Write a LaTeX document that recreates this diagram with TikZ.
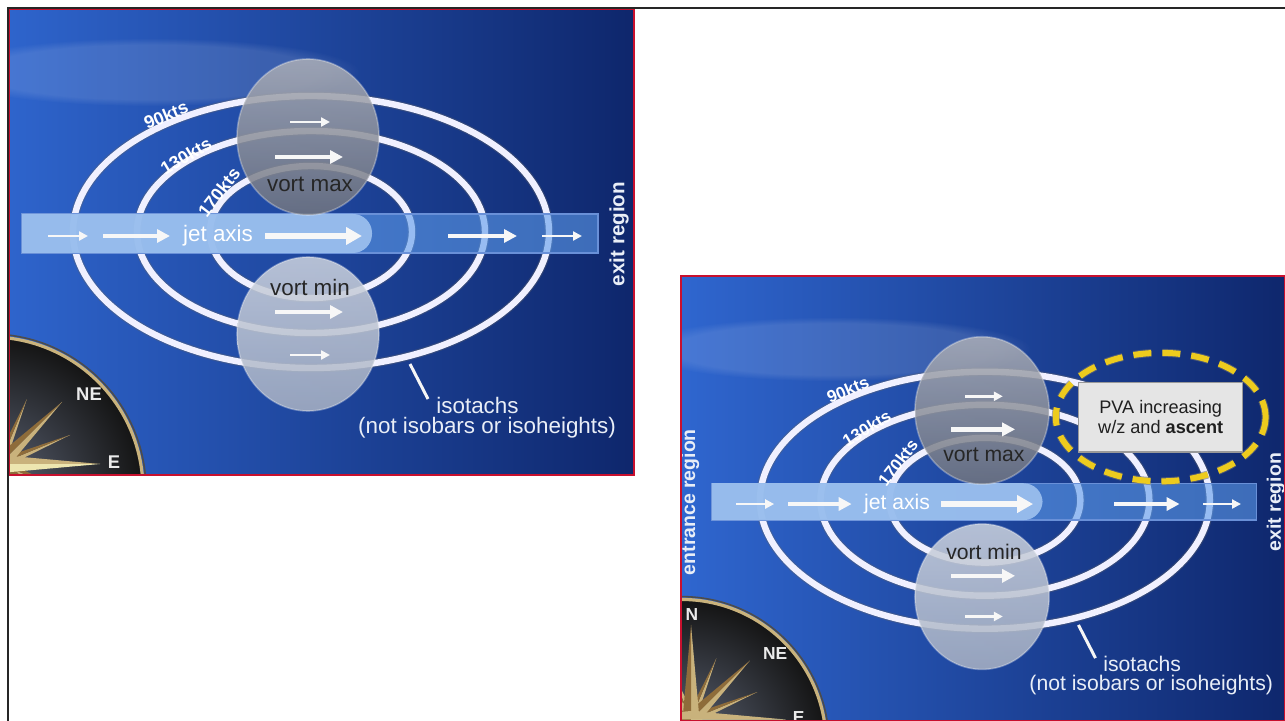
\documentclass[tikz,border=0pt]{standalone}
\usepackage{fontspec}
\setmainfont{Liberation Sans}
\usepackage{tikz}
\usetikzlibrary{arrows.meta,fadings}
\definecolor{jetskylight}{HTML}{3068D2}
\definecolor{jetskymid}  {HTML}{1D49B8}
\definecolor{jetskydeep} {HTML}{0D2468}
\definecolor{jetbarpale} {HTML}{9CC0EE}
\definecolor{jetbarblue} {HTML}{5C9AEA}
\definecolor{vortmaxtop} {HTML}{ABAEB7}
\definecolor{vortmaxbot} {HTML}{70747F}
\definecolor{vortmintop} {HTML}{CDD3DE}
\definecolor{vortminbot} {HTML}{A9B2C3}
\definecolor{compassface}{HTML}{5E6678}
\definecolor{compassgold}{HTML}{C9B27C}
\definecolor{compassdark}{HTML}{8E6C3A}
\definecolor{compasspale}{HTML}{EDE6B0}
\definecolor{pvayellow}  {HTML}{EDCB1E}
\definecolor{panelred}   {HTML}{C8102E}
\definecolor{labelwhite} {HTML}{E9EEF7}

\begin{document}
\begin{tikzpicture}[
  x=0.5pt, y=-0.5pt,
  isotach/.style={draw=white!94!blue, line width=3.2pt},
  isoshade/.style={draw=black!60, line width=4.4pt, opacity=0.35},
  flowthin/.style={draw=white!94!gray, line width=1.3pt,
                   -{Triangle[length=4.5pt,width=4.5pt]}},
  flowmid/.style={draw=white!94!gray, line width=2.2pt,
                  -{Triangle[length=6.5pt,width=6.5pt]}},
  flowbig/.style={draw=white!94!gray, line width=3pt,
                  -{Triangle[length=8pt,width=8.5pt]}},
  kts/.style={text=white, font=\bfseries\fontsize{9}{10}\selectfont, inner sep=0pt},
  slidetext/.style={text=labelwhite, font=\fontsize{11.2}{13}\selectfont, inner sep=0pt},
  regiontext/.style={text=labelwhite, font=\bfseries\fontsize{10.3}{12}\selectfont,
                     rotate=90, inner sep=0pt},
  vorttext/.style={text=black!85, font=\fontsize{11.2}{13}\selectfont, inner sep=0pt},
  compasstext/.style={text=white!92!black, font=\bfseries\fontsize{9.2}{10}\selectfont,
                      inner sep=0pt},
  pvanote/.style={fill=black!10, draw=black!40, line width=0.6pt,
                  minimum width=87pt, minimum height=37pt, align=center,
                  text=black!88, font=\fontsize{9.6}{10.8}\selectfont},
  pvaring/.style={draw=pvayellow, line width=3pt, dash pattern=on 9pt off 5.5pt},
]
  \useasboundingbox (0,0) rectangle (1285,721);
  \fill[white] (0,0) rectangle (1285,721);

  % The same slide twice: cropped full size top left,
  % smaller and uncropped on the left with the PVA note bottom right.
  \foreach \sx/\sy/\sc/\clipl/\clipt/\clipr/\clipb/\pva in
    {0/0/1/9/9/634/475/0, 691/281/0.945/681/276/1285/721/1}
  {
    \begin{scope}
      \clip (\clipl,\clipt) rectangle (\clipr,\clipb);
      \begin{scope}[shift={(\sx,\sy)}, scale=\sc, transform shape]
        % sky
        \shade[left color=jetskylight, middle color=jetskymid, right color=jetskydeep]
          (-30,-30) rectangle (660,500);
        \fill[white, opacity=0.12, path fading=circle with fuzzy edge 20 percent]
          (150,72) ellipse (210 and 34);

        % isotachs
        \coordinate (core) at (311,232);
        \foreach \a/\b in {238/136, 174/101, 101/66}
          { \draw[isoshade] (core) ellipse ({\a} and {\b});
            \draw[isotach]  (core) ellipse ({\a} and {\b}); }

        % jet axis band, opaque where the core sits
        \fill[jetbarblue, opacity=0.6] (22,214) rectangle (598,253);
        \draw[jetbarpale!60!jetskymid, line width=0.6pt] (22,214) rectangle (598,253);
        \fill[jetbarpale, opacity=0.93] (22,214) -- (300,214) [rounded corners=9.5pt]
          -- (372,214) -- (372,253) -- (300,253) [sharp corners] -- (22,253) -- cycle;
        \node[slidetext, text=white] (jetlabel) at (218,236) {jet axis};
        \draw[flowthin] (48,236) -- (88,236);
        \draw[flowmid]  (103,236) -- (170,236);
        \draw[flowbig]  (265,236) -- (362,236);
        \draw[flowmid]  (448,236) -- (517,236);
        \draw[flowthin] (542,236) -- (582,236);

        % vorticity spheres
        \coordinate (vmax) at (308,137);
        \coordinate (vmin) at (308,334);
        \shade[top color=vortmaxtop, bottom color=vortmaxbot, opacity=0.86]
          (vmax) ellipse (71 and 78);
        \shade[top color=vortmintop, bottom color=vortminbot, opacity=0.86]
          (vmin) ellipse (71 and 77);
        \draw[white, opacity=0.3, line width=0.8pt] (vmax) ellipse (71 and 78);
        \draw[white, opacity=0.3, line width=0.8pt] (vmin) ellipse (71 and 77);
        \draw[flowthin] (290,122) -- (330,122);
        \draw[flowmid]  (275,157) -- (343,157);
        \node[vorttext] (maxlabel) at (310,184) {vort max};
        \node[vorttext] (minlabel) at (310,287) {vort min};
        \draw[flowmid]  (275,312) -- (343,312);
        \draw[flowthin] (290,355) -- (330,355);

        % speed labels along the left flanks
        \node[kts, rotate=23] (k90)  at (166,115) {90kts};
        \node[kts, rotate=31] (k130) at (186,156) {130kts};
        \node[kts, rotate=52] (k170) at (219,192) {170kts};

        % isotach note with its leader
        \node[slidetext, anchor=west] (isolab) at (436,405) {isotachs};
        \node[slidetext] (isonote) at (487,428) {(not isobars or isoheights)};
        \coordinate (isotip) at (410,364);
        \draw[white!92!gray, line width=1.5pt]
          (isotip) -- ([xshift=-4pt,yshift=3pt]isolab.west);

        \node[regiontext] (exitlab) at (619,234) {exit region};

        % compass rose in the corner
        \coordinate (rose) at (0,464);
        \shade[inner color=compassface, outer color=black!92] (-10,490) circle (153);
        \draw[black!70, line width=0.8pt] (-10,490) circle (156);
        \draw[compassgold, line width=1.6pt] (-10,490) circle (153);
        \foreach \ang/\len/\wid in {-22.5/76/5, -67.5/70/5, 22.5/76/5, -112.5/70/5,
                                   -45/88/8, 45/88/8, -135/88/8, 135/88/8,
                                   -90/100/9, 90/100/9, 180/100/9}
          { \fill[compassgold] (rose) -- +(\ang:\len) -- +(\ang+90:\wid) -- cycle;
            \fill[compassdark] (rose) -- +(\ang:\len) -- +(\ang-90:\wid) -- cycle; }
        \fill[compasspale] (rose) -- +(0:100) -- +(90:9) -- cycle;
        \fill[compassgold] (rose) -- +(0:100) -- +(-90:9) -- cycle;
        \node[compasstext] (nelab)   at (89,394) {NE};
        \node[compasstext] (eastlab) at (114,462) {E};

        % left margin and PVA note, second copy only
        \ifnum\pva=1
          \node[regiontext] (entrylab) at (-1,234) {entrance region};
          \node[compasstext] (northlab) at (1,353) {N};
          \node[pvanote] (pvabox) at (497,144) {PVA increasing\\w/z and \textbf{ascent}};
          \draw[black!55, line width=4pt, dash pattern=on 9pt off 5.5pt, opacity=0.6]
            (pvabox.center) ellipse (111 and 68);
          \draw[pvaring] (pvabox.center) ellipse (111 and 68);
        \fi
      \end{scope}
    \end{scope}
    \draw[panelred, line width=1pt] (\clipl,\clipt) rectangle (\clipr,\clipb);
  }

  % page frame, top and left only
  \draw[black!85, line width=1.3pt] (1285,8) -- (8,8) -- (8,721);
\end{tikzpicture}
\end{document}
